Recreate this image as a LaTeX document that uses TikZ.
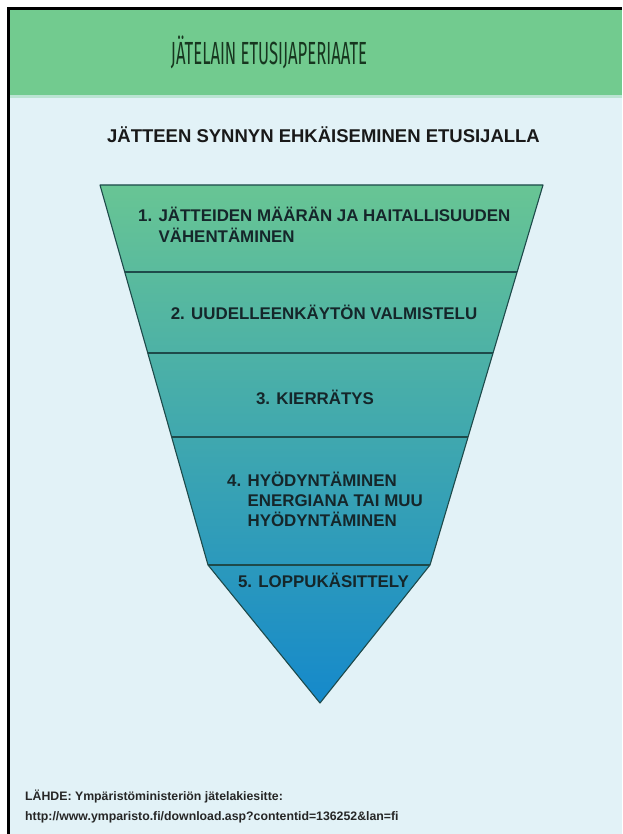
\documentclass[tikz,border=0pt]{standalone}
\usepackage{fontspec}
\setmainfont{Liberation Sans}
\newfontfamily\hdfont[FakeStretch=0.52]{Fira Sans}
\definecolor{bgblue}{HTML}{E2F2F7}
\definecolor{hdgreen}{HTML}{72CB8F}
\definecolor{hdtext}{HTML}{17361F}
\definecolor{fgreen}{HTML}{68C594}
\definecolor{fmid}{HTML}{42B0A8}
\definecolor{fblue}{HTML}{1589CB}
\definecolor{edge}{HTML}{1E4A4A}
\definecolor{sectext}{HTML}{15262A}
\tikzset{
  sectxt/.style={font=\bfseries\fontsize{16.9}{20}\selectfont, text=sectext, inner sep=0pt},
  funnelline/.style={draw=edge, line width=1.1pt, line join=round},
  foot/.style={font=\bfseries\fontsize{12.3}{14}\selectfont, text=black!85, anchor=west, inner sep=0pt}
}
\begin{document}
\begin{tikzpicture}[x=1pt,y=-1pt]
\useasboundingbox (0,0) rectangle (622,834);
\fill[white] (0,0) rectangle (622,834);
\fill[bgblue] (9,9) rectangle (622,834);
\fill[hdgreen] (9,9) rectangle (622,95);
\fill[hdgreen!35!bgblue] (9,95) rectangle (622,98);
\draw[black, line width=3.5pt] (8.5,834) -- (8.5,8.5) -- (622,8.5);

\node[font=\hdfont\fontsize{32}{32}\selectfont, text=hdtext, inner sep=0pt] (title) at (269,52) {JÄTELAIN ETUSIJAPERIAATE};
\node[font=\bfseries\fontsize{18.5}{20}\selectfont, text=black!90, inner sep=0pt] (sub) at (323.5,135) {JÄTTEEN SYNNYN EHKÄISEMINEN ETUSIJALLA};

\coordinate (A) at (100,185);
\coordinate (B) at (543,185);
\coordinate (L1) at (124.7,272);
\coordinate (R1) at (517.1,272);
\coordinate (L2) at (147.7,353);
\coordinate (R2) at (493,353);
\coordinate (L3) at (171.6,437);
\coordinate (R3) at (468,437);
\coordinate (L4) at (208,565);
\coordinate (R4) at (430,565);
\coordinate (T) at (320,703);

\shade[top color=fgreen, middle color=fmid, bottom color=fblue, shading angle=0]
  (A) -- (B) -- (R4) -- (T) -- (L4) -- cycle;
\path[funnelline] (A) -- (B) -- (R4) -- (T) -- (L4) -- cycle;
\path[funnelline] (L1) -- (R1);
\path[funnelline] (L2) -- (R2);
\path[funnelline] (L3) -- (R3);
\path[funnelline] (L4) -- (R4);

\node[sectxt, anchor=west] (s1) at (138,228) {\begin{tabular}{@{}l@{ }l@{}}1.&JÄTTEIDEN MÄÄRÄN JA HAITALLISUUDEN\\&VÄHENTÄMINEN\end{tabular}};
\node[sectxt] (s2) at (324,312) {2. UUDELLEENKÄYTÖN VALMISTELU};
\node[sectxt] (s3) at (315,397) {3. KIERRÄTYS};
\node[sectxt, anchor=west] (s4) at (227,502) {\begin{tabular}{@{}l@{ }l@{}}4.&HYÖDYNTÄMINEN\\&ENERGIANA TAI MUU\\&HYÖDYNTÄMINEN\end{tabular}};
\node[sectxt] (s5) at (323.5,580) {5. LOPPUKÄSITTELY};

\node[foot] (f1) at (25,797) {LÄHDE: Ympäristöministeriön jätelakiesitte:};
\node[foot] (f2) at (25,817) {http://www.ymparisto.fi/download.asp?contentid=136252\&lan=fi};
\end{tikzpicture}
\end{document}
